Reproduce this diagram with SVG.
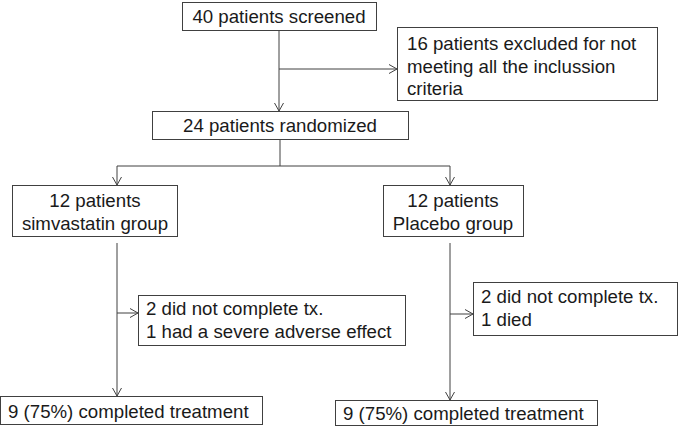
<svg xmlns="http://www.w3.org/2000/svg" width="678" height="426" viewBox="0 0 678 426">
<style>
.box{fill:#fff;stroke:#404040;stroke-width:1}
.t{font-family:"Liberation Sans",Arial,sans-serif;font-size:18.67px;fill:#1a1a1a}
.c{text-anchor:middle}
.ln{stroke:#404040;stroke-width:1;fill:none}
.ar{marker-end:url(#ah)}
</style>
<defs>
<marker id="ah" viewBox="0 0 8 10" refX="8" refY="5" markerWidth="8" markerHeight="10" markerUnits="userSpaceOnUse" orient="auto">
<path d="M0,0.5 L8,5 L0,9.5" fill="none" stroke="#404040" stroke-width="1"/>
</marker>
</defs>
<rect width="678" height="426" fill="#fff"/>
<g id="connectors">
<path class="ln ar" d="M279,30 V111"/>
<path class="ln ar" d="M279,69 H397"/>
<path class="ln" d="M280,139 V166 M117,166 H450"/>
<path class="ln ar" d="M117,166 V185"/>
<path class="ln ar" d="M450,166 V185"/>
<path class="ln ar" d="M117,243 V396"/>
<path class="ln ar" d="M117,313 H138"/>
<path class="ln ar" d="M450,243 V400"/>
<path class="ln ar" d="M450,314 H473"/>
</g>
<g id="screened">
<rect class="box" x="182.5" y="2.5" width="194" height="28"/>
<text class="t c" x="279" y="23">40 patients screened</text>
</g>
<g id="excluded">
<rect class="box" x="397.5" y="27.5" width="260" height="73"/>
<text class="t" x="407" y="50">16 patients excluded for not</text>
<text class="t" x="407" y="73">meeting all the inclussion</text>
<text class="t" x="407" y="95">criteria</text>
</g>
<g id="randomized">
<rect class="box" x="152.5" y="111.5" width="256" height="28"/>
<text class="t c" x="280" y="132">24 patients randomized</text>
</g>
<g id="simvastatin">
<rect class="box" x="12.5" y="185.5" width="165" height="51"/>
<text class="t c" x="95" y="207">12 patients</text>
<text class="t c" x="95" y="230">simvastatin group</text>
</g>
<g id="placebo">
<rect class="box" x="383.5" y="185.5" width="140" height="51"/>
<text class="t c" x="453" y="207">12 patients</text>
<text class="t c" x="453" y="230">Placebo group</text>
</g>
<g id="dropout-simva">
<rect class="box" x="138.5" y="295.5" width="267" height="50"/>
<text class="t" x="146" y="315">2 did not complete tx.</text>
<text class="t" x="146" y="338">1 had a severe adverse effect</text>
</g>
<g id="dropout-placebo">
<rect class="box" x="473.5" y="282.5" width="204" height="53"/>
<text class="t" x="481" y="303">2 did not complete tx.</text>
<text class="t" x="481" y="326">1 died</text>
</g>
<g id="completed-simva">
<rect class="box" x="0.5" y="396.5" width="262" height="28"/>
<text class="t" x="8" y="418">9 (75%) completed treatment</text>
</g>
<g id="completed-placebo">
<rect class="box" x="335.5" y="400.5" width="262" height="25"/>
<text class="t" x="343" y="420">9 (75%) completed treatment</text>
</g>
</svg>
